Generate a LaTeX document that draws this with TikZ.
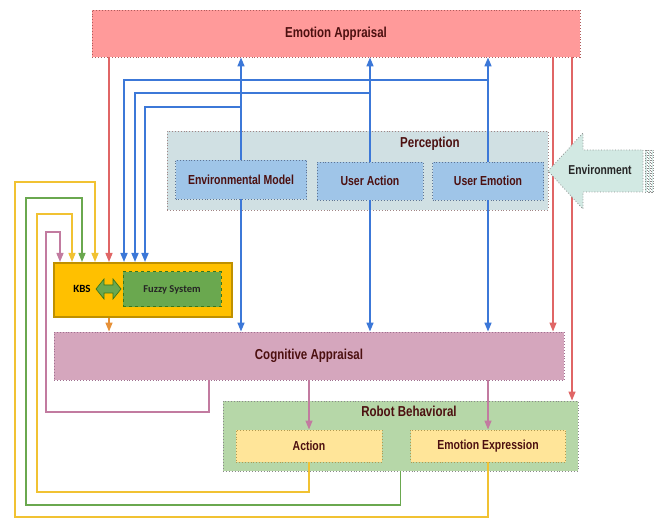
\documentclass[tikz,border=0pt]{standalone}
\usepackage{fontspec}
\usepackage{tikz}
\usetikzlibrary{arrows.meta}
\newfontfamily\boxFont{Liberation Sans}[FakeStretch=0.8]
\newfontfamily\kbsFont{Carlito}
%%
\definecolor{titleText}{HTML}{4C1010}
\definecolor{appraisalRed}{HTML}{FF9A9A}
\definecolor{appraisalRedBorder}{HTML}{B05C5C}
\definecolor{perceptionGrey}{HTML}{D0E0E3}
\definecolor{perceptionBorder}{HTML}{A08585}
\definecolor{moduleBlue}{HTML}{9FC5E8}
\definecolor{moduleBorder}{HTML}{5F7594}
\definecolor{cognitivePink}{HTML}{D5A6BD}
\definecolor{cognitiveBorder}{HTML}{A07090}
\definecolor{robotGreen}{HTML}{B6D7A8}
\definecolor{robotBorder}{HTML}{8A8A8A}
\definecolor{outputYellow}{HTML}{FFE599}
\definecolor{outputBorder}{HTML}{B09A50}
\definecolor{kbsGold}{HTML}{FFC000}
\definecolor{kbsBorder}{HTML}{BF9000}
\definecolor{fuzzyGreen}{HTML}{6AA84F}
\definecolor{fuzzyBorder}{HTML}{38761D}
\definecolor{environmentCyan}{HTML}{D2E9E3}
\definecolor{lineBlue}{HTML}{3C78D8}
\definecolor{lineRed}{HTML}{E06666}
\definecolor{linePink}{HTML}{C27BA0}
\definecolor{lineYellow}{HTML}{F1C232}
\definecolor{lineGreen}{HTML}{6AA84F}
\definecolor{lineOrange}{HTML}{E69138}
%%
%% A loop from an output back down into the KBS.
\newcommand{\kbsFeedback}[6]{%%
  \draw[flowStyle,draw=#1] (#2) |- (#4,#3) |- (#6,#5) -- (kbs.north -| #6,0);
}

\begin{document}
\begin{tikzpicture}[x=1pt,y=-1pt,%%
  boxStyle/.style={draw,dotted,line width=0.9pt,inner sep=0pt,text=titleText,%%
    font=\boxFont\bfseries\fontsize{14.4}{16}\selectfont},%%
  moduleStyle/.style={boxStyle,fill=moduleBlue,draw=moduleBorder,%%
    font=\boxFont\bfseries\fontsize{13.1}{15}\selectfont},%%
  outputStyle/.style={moduleStyle,fill=outputYellow,draw=outputBorder},%%
  titleStyle/.style={inner sep=0pt,text=titleText,%%
    font=\boxFont\bfseries\fontsize{14.4}{16}\selectfont},%%
  flowStyle/.style={line width=1.3pt,-{Triangle[length=9pt,width=7pt]}},%%
  blueStyle/.style={flowStyle,line width=1.6pt,draw=lineBlue}%%
]
\useasboundingbox (0,0) rectangle (661,518);
%%
%% The main blocks.
\node[boxStyle,fill=appraisalRed,draw=appraisalRedBorder,%%
  minimum width=488pt,minimum height=47pt] (emotionAppraisal) at (336,33.5) {Emotion Appraisal};
\node[boxStyle,fill=perceptionGrey,draw=perceptionBorder,%%
  minimum width=381pt,minimum height=79pt] (perception) at (357.5,170.5) {};
\node[titleStyle] (perceptionTitle) at (430,144) {Perception};
\node[moduleStyle,minimum width=131pt,minimum height=39pt] (envModel) at (241,179.5) {Environmental Model};
\node[moduleStyle,minimum width=106pt,minimum height=38pt] (userAction) at (370,181) {User Action};
\node[moduleStyle,minimum width=111pt,minimum height=38pt] (userEmotion) at (488,181) {User Emotion};
\node[boxStyle,fill=cognitivePink,draw=cognitiveBorder,%%
  minimum width=510pt,minimum height=48pt] (cognitiveAppraisal) at (309,356) {Cognitive Appraisal};
\node[boxStyle,fill=robotGreen,draw=robotBorder,%%
  minimum width=355pt,minimum height=70pt] (robotBehavioral) at (400.5,436) {};
\node[titleStyle] (robotTitle) at (409,411) {Robot Behavioral};
\node[outputStyle,minimum width=146pt,minimum height=32pt] (action) at (309,446) {Action};
\node[outputStyle,minimum width=155pt,minimum height=32pt] (emotionExpression) at (488,446) {Emotion Expression};
%%
%% The KBS block.
\node[draw=kbsBorder,line width=2pt,fill=kbsGold,inner sep=0pt,%%
  minimum width=178pt,minimum height=54pt] (kbs) at (143,290) {};
\node[font=\kbsFont\bfseries\fontsize{11}{13}\selectfont,inner sep=0pt] (kbsLabel) at (82,289) {KBS};
\node[draw=fuzzyBorder,dashed,line width=1pt,fill=fuzzyGreen,inner sep=0pt,%%
  minimum width=98pt,minimum height=35pt,text=black!85,%%
  font=\kbsFont\bfseries\fontsize{10.5}{12}\selectfont] (fuzzy) at (172,289.5) {Fuzzy System};
%% The two-way arrow between them.
\draw[fill=fuzzyGreen,draw=fuzzyBorder,line width=0.7pt,line join=miter]
  (96,289) -- (104,279) -- (104,285) -- (113,285) -- (113,279) -- (121,289)
  -- (113,299) -- (113,293) -- (104,293) -- (104,299) -- cycle;
%%
%% Perception up to the emotion appraisal and down to the cognitive appraisal.
\foreach \module in {envModel,userAction,userEmotion}{
  \draw[blueStyle] (\module.north) -- (\module.north |- emotionAppraisal.south);
  \draw[blueStyle] (\module.south) -- (\module.south |- cognitiveAppraisal.north);
}
%% Perception into the KBS.
\draw[blueStyle] (userEmotion.north |- 0,80) -| (kbs.north -| 124,0);
\draw[blueStyle] (userAction.north |- 0,93) -| (kbs.north -| 135,0);
\draw[blueStyle] (envModel.north |- 0,107) -| (kbs.north -| 145,0);
%%
%% Emotion appraisal outputs.
\draw[flowStyle,draw=lineRed] (emotionAppraisal.south -| 109,0) -- (kbs.north -| 109,0);
\draw[flowStyle,draw=lineRed] (emotionAppraisal.south -| 553,0) -- (cognitiveAppraisal.north -| 553,0);
\draw[flowStyle,draw=lineRed] (emotionAppraisal.south -| 572,0) -- (robotBehavioral.north -| 572,0);
\draw[flowStyle,draw=lineOrange] (kbs.south -| 109,0) -- (cognitiveAppraisal.north -| 109,0);
%%
%% Cognitive appraisal to the robot behaviour.
\draw[flowStyle,draw=linePink] (cognitiveAppraisal.south -| action.north) -- (action.north);
\draw[flowStyle,draw=linePink] (cognitiveAppraisal.south -| emotionExpression.north) -- (emotionExpression.north);
%%
%% Loops back into the KBS.
\kbsFeedback{linePink}{cognitiveAppraisal.south -| 209,0}{412}{46}{232}{60}
\kbsFeedback{lineYellow}{action.south}{492}{37}{214}{72}
\kbsFeedback{lineGreen}{robotBehavioral.south}{505}{26}{198}{82}
\kbsFeedback{lineYellow}{emotionExpression.south}{517}{15}{182}{95}
%%
%% The environment arrow.
\draw[dotted,line width=0.8pt,draw=black!45,fill=environmentCyan]
  (548,171) -- (583,133) -- (583,150) -- (643,150) -- (643,192)
  -- (583,192) -- (583,209) -- cycle;
\foreach \stripe in {645,648.5,651.5}{
  \draw[dotted,line width=0.6pt,draw=black!45,fill=environmentCyan]
    (\stripe,150) rectangle (\stripe+1.8,192);
}
\node[font=\boxFont\bfseries\fontsize{12.9}{15}\selectfont,text=black!85,inner sep=0pt]
  (environment) at (600,170) {Environment};
\end{tikzpicture}
\end{document}
